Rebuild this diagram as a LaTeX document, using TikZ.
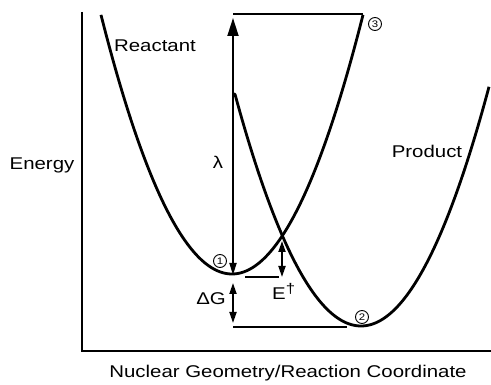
\documentclass[tikz,border=0pt]{standalone}
\usepackage{fontspec}
\setmainfont{Liberation Sans}[FakeStretch=1.2]
\usetikzlibrary{arrows.meta}
\begin{document}
\begin{tikzpicture}[x=1pt,y=-1pt,
  curve/.style={line width=2.8pt, line join=round},
  axisline/.style={line width=2pt},
  thinline/.style={line width=1.2pt},
  dblarrow/.style={line width=1.8pt, {Triangle[length=11pt,width=7pt]}-{Triangle[length=11pt,width=7pt]}},
  lbl/.style={font=\fontsize{17}{17}\selectfont, inner sep=0pt},
  num/.style={circle, draw, line width=0.9pt, minimum size=13pt, inner sep=0pt, font=\fontsize{9.5}{9.5}\selectfont}]
\useasboundingbox (0,0) rectangle (491,385);
% axes
\coordinate (ytop) at (82,12);
\coordinate (orig) at (82,351);
\coordinate (xend) at (491,351);
\draw[axisline] (ytop) -- (orig) -- (xend);
% curves
\draw[curve] plot[domain=101:363,samples=140] (\x,{274-1.51*((\x-232)/10)^2});
\coordinate (pstart) at (233,94);
\draw[curve] (pstart) -- plot[domain=235:489,samples=140] (\x,{326-1.46*((\x-361)/10)^2});
% lambda
\coordinate (lamtop) at (233,14);
\coordinate (r3) at (363,14);
\coordinate (lamtip) at (233,18);
\coordinate (lambot) at (233,275);
\draw[thinline] (lamtop) -- (r3);
\draw[line width=1.8pt, {Triangle[length=18pt,width=11pt]}-{Triangle[length=12pt,width=7pt]}] (lamtip) -- (lambot);
% E dagger
\coordinate (el) at (245,277);
\coordinate (er) at (279,277);
\draw[thinline] (el) -- (er);
\coordinate (etop) at (282,241);
\coordinate (ebot) at (282,277);
\draw[dblarrow] (etop) -- (ebot);
% Delta G
\coordinate (gtop) at (233,283);
\coordinate (gbot) at (233,323);
\draw[dblarrow] (gtop) -- (gbot);
\coordinate (bl) at (233,327);
\coordinate (br) at (347,327);
\draw[thinline] (bl) -- (br);
% labels
\node[lbl] (reac) at (155,46) {Reactant};
\node[lbl] (prod) at (427,151) {Product};
\node[lbl] (energy) at (42,165) {Energy};
\node[lbl] (lam) at (218,162) {λ};
\node[lbl] (dg) at (211,299) {ΔG};
\node[lbl, anchor=base west] (edag) at (272,300) {E\raisebox{6pt}{\fontsize{14}{14}\selectfont\textdagger}};
\node[lbl] (xlab) at (288,373) {Nuclear Geometry/Reaction Coordinate};
\node[num] (n1) at (220,261) {1};
\node[num] (n2) at (362,317) {2};
\node[num] (n3) at (375,24) {3};
\end{tikzpicture}
\end{document}
